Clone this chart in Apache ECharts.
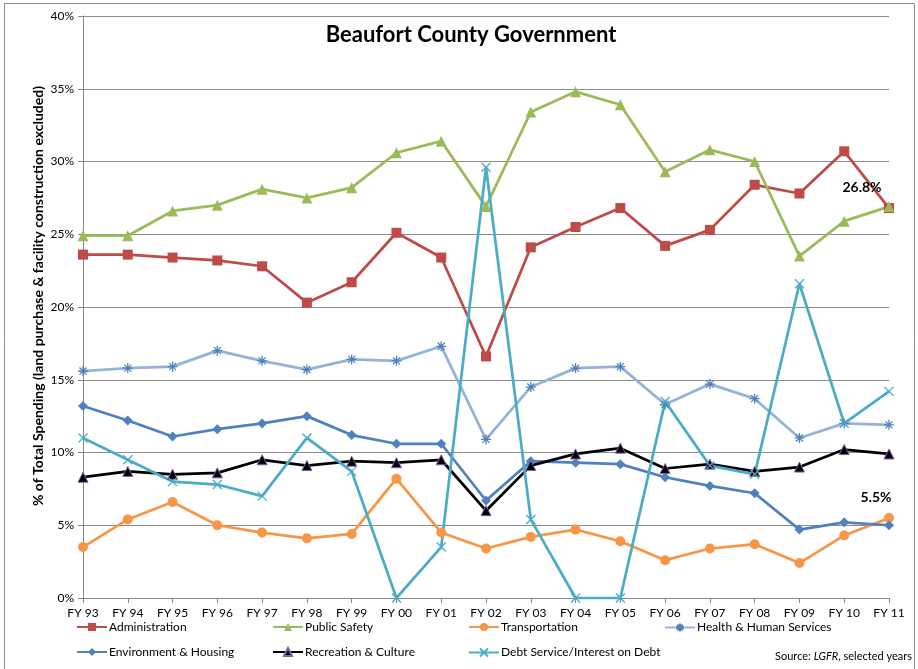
<!DOCTYPE html>
<html>
<head>
<meta charset="utf-8">
<script src="https://cdn.jsdelivr.net/npm/echarts@6/dist/echarts.min.js"></script>
<style>
html,body{margin:0;padding:0;background:#fff;}
#chart{width:918px;height:669px;}
</style>
</head>
<body>
<div id="chart"></div>
<script>
const categories = ['FY 93','FY 94','FY 95','FY 96','FY 97','FY 98','FY 99','FY 00','FY 01','FY 02','FY 03','FY 04','FY 05','FY 06','FY 07','FY 08','FY 09','FY 10','FY 11'];
const administration = [23.6,23.6,23.4,23.2,22.8,20.3,21.7,25.1,23.4,16.6,24.1,25.5,26.8,24.2,25.3,28.4,27.8,30.7,26.8];
const publicSafety = [24.9,24.9,26.6,27.0,28.1,27.5,28.2,30.6,31.4,26.9,33.4,34.8,33.9,29.3,30.8,30.0,23.5,25.9,26.9];
const transportation = [3.5,5.4,6.6,5.0,4.5,4.1,4.4,8.2,4.5,3.4,4.2,4.7,3.9,2.6,3.4,3.7,2.4,4.3,5.5];
const healthHuman = [15.6,15.8,15.9,17.0,16.3,15.7,16.4,16.3,17.3,10.9,14.5,15.8,15.9,13.3,14.7,13.7,11.0,12.0,11.9];
const environment = [13.2,12.2,11.1,11.6,12.0,12.5,11.2,10.6,10.6,6.7,9.4,9.3,9.2,8.3,7.7,7.2,4.7,5.2,5.0];
const recreation = [8.3,8.7,8.5,8.6,9.5,9.1,9.4,9.3,9.5,6.0,9.1,9.9,10.3,8.9,9.2,8.7,9.0,10.2,9.9];
const debtService = [11.0,9.5,8.0,7.8,7.0,11.0,8.7,0,3.5,29.6,5.4,0,0,13.5,9.1,8.5,21.6,12.0,14.2];
const yTicks = [0,5,10,15,20,25,30,35,40];

const FONT = 'Lato, "Open Sans", sans-serif';
const asterisk = 'path://M5,0L5,10M0,5L10,5M1.5,1.5L8.5,8.5M8.5,1.5L1.5,8.5';
const cross = 'path://M0,0L10,10M10,0L0,10';

function withLabel(arr, text, offset) {
  return arr.map((v, i) => i === arr.length - 1 ? {
    value: v,
    label: {show: true, position: 'top', formatter: text, offset: offset,
      fontFamily: FONT, fontWeight: 'bold', fontSize: 14, color: '#000'}
  } : v);
}

const series = [
  {name:'Administration', data: withLabel(administration, '26.8%', [-27, -4]), color:'#BE4B48', symbol:'rect', symbolSize:10, lineW:2.75},
  {name:'Public Safety', data: publicSafety, color:'#9BBB59', symbol:'triangle', symbolSize:11, lineW:2.75},
  {name:'Transportation', data: withLabel(transportation, '5.5%', [-13, -3]), color:'#F79646', symbol:'circle', symbolSize:10, lineW:2.75},
  {name:'Health & Human Services', data: healthHuman, color:'#95B3D7', symbol: asterisk, symbolSize:10, lineW:2.75, markerColor:'#4F81BD', stroke:true},
  {name:'Environment & Housing', data: environment, color:'#4F81BD', symbol:'diamond', symbolSize:10, lineW:2.75},
  {name:'Recreation & Culture', data: recreation, color:'#000000', symbol:'triangle', symbolSize:10, lineW:2.75, markerBorder:'#7F5FA8'},
  {name:'Debt Service/Interest on Debt', data: debtService, color:'#4BACC6', symbol: cross, symbolSize:9, lineW:2.75, stroke:true}
].map(s => {
  const o = {
    name: s.name, type: 'line', data: s.data, symbol: s.symbol, symbolSize: s.symbolSize,
    showAllSymbol: true, animation: false,
    lineStyle: {color: s.color, width: s.lineW},
    itemStyle: {color: s.markerColor || s.color}
  };
  if (s.stroke) {
    o.itemStyle = {color: 'none', borderColor: s.markerColor || s.color, borderWidth: 1.3};
  } else if (s.markerBorder) {
    o.itemStyle = {color: s.color, borderColor: s.markerBorder, borderWidth: 1};
  }
  return o;
});

const legendPos = [
  [76, 621], [272, 621], [468, 621], [664, 621],
  [76, 646], [272, 646], [468, 646]
];
const legends = series.map((s, i) => ({
  data: [s.name], left: legendPos[i][0], top: legendPos[i][1],
  itemWidth: 30, itemHeight: 10, itemGap: 0, padding: 0,
  textStyle: {fontFamily: FONT, fontSize: 12, color: '#000', padding: [0,0,0,-3]},
  selectedMode: false
}));

const chart = echarts.init(document.getElementById('chart'));
chart.setOption({
  animation: false,
  backgroundColor: '#fff',
  title: {
    text: 'Beaufort County Government', left: 466, top: 19, textAlign: 'center',
    textStyle: {fontFamily: FONT, fontWeight: 'bold', fontSize: 22, color: '#000'}
  },
  legend: legends,
  grid: {left: 83, right: 29, top: 16, bottom: 71, containLabel: false},
  xAxis: {
    type: 'category', data: categories, boundaryGap: false,
    axisLine: {show: true, lineStyle: {color: '#878787', width: 1}},
    axisTick: {show: true, alignWithLabel: true, length: 5, lineStyle: {color: '#878787'}},
    axisLabel: {fontFamily: FONT, fontSize: 12, color: '#000', margin: 9, interval: 0},
    splitLine: {show: false}
  },
  yAxis: {
    type: 'value', min: yTicks[0], max: yTicks[yTicks.length-1], interval: 5,
    axisLine: {show: true, lineStyle: {color: '#878787', width: 1}},
    axisTick: {show: true, length: 5, lineStyle: {color: '#878787'}},
    axisLabel: {fontFamily: FONT, fontSize: 12, color: '#000', margin: 9, formatter: '{value}%'},
    splitLine: {show: true, lineStyle: {color: '#8c8c8c', width: 1}}
  },
  graphic: [
    {type: 'rect', shape: {x: 4.5, y: 3.5, width: 910, height: 700}, style: {fill: 'none', stroke: '#8c8c8c', lineWidth: 1}, silent: true},
    {type: 'text', x: 38, y: 296, rotation: Math.PI / 2, silent: true,
     style: {text: '% of Total Spending (land purchase & facility construction excluded)',
       fontFamily: FONT, fontWeight: 'bold', fontSize: 14, fill: '#000', align: 'center', verticalAlign: 'middle'}},
    {type: 'text', right: 6, top: 651,
     style: {text: 'Source: {i|LGFR}, selected years', fontFamily: FONT, fontSize: 11, fill: '#000',
       rich: {i: {fontStyle: 'italic', fontFamily: FONT, fontSize: 11}}}}
  ],
  series: series
});
</script>
</body>
</html>
